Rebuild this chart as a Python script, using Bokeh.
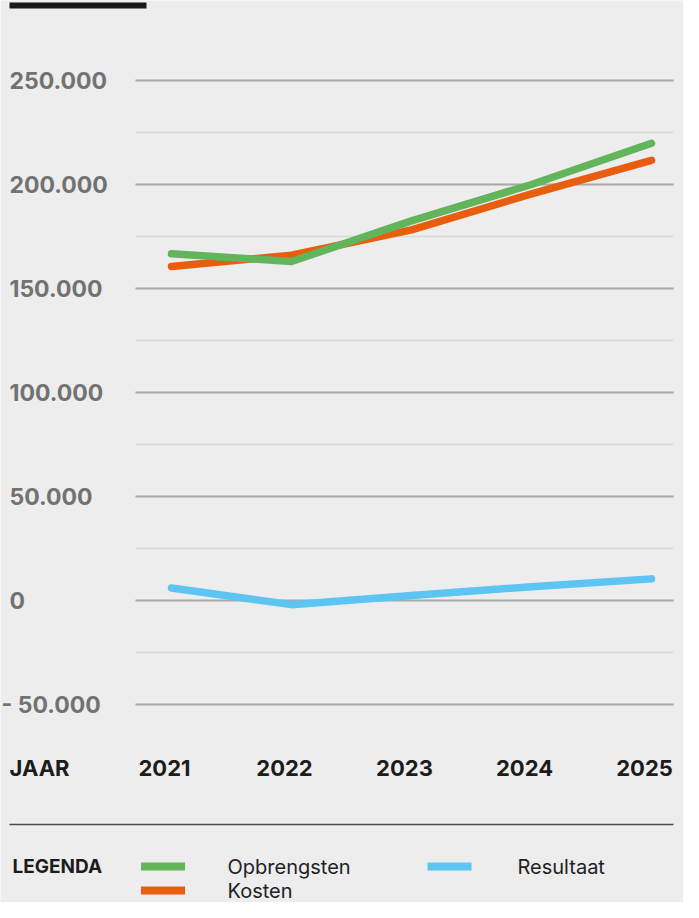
from bokeh.plotting import figure
from bokeh.models import Range1d
from bokeh.core.properties import value
from bokeh.embed import file_html
from bokeh.resources import INLINE

# ---------------- data ----------------
years = [2021, 2022, 2023, 2024, 2025]
opbrengsten = [166700, 163000, 182500, 200000, 219800]
kosten = [160600, 166000, 178200, 195500, 211600]
resultaat = [6000, -2000, 2400, 6600, 10400]

y_major = [250000, 200000, 150000, 100000, 50000, 0, -50000]
y_major_labels = ["250.000", "200.000", "150.000", "100.000", "50.000", "0", "- 50.000"]
y_minor = [225000, 175000, 125000, 75000, 25000, -25000]
year_labels = ["2021", "2022", "2023", "2024", "2025"]
x_title = "JAAR"
legend_title = "LEGENDA"
series_names = ["Opbrengsten", "Kosten", "Resultaat"]

# ---------------- styling ----------------
BG = "#ededed"
C_GREEN = "#62b55b"
C_ORANGE = "#e95d0e"
C_BLUE = "#5cc5f2"
FONT = value("Inter")

W, H = 683, 902          # figure size (page has 8px margin)
PX_PER_YEAR = 120.0
PX_PER_UNIT = 0.00208    # pixels per unit of value
X0_PAGE = 179.0          # page x of first year
ZERO_PAGE = 608.0        # page y of value 0


def X(px):
    """page pixel x -> data x"""
    return years[0] + (px - X0_PAGE) / PX_PER_YEAR


def Y(py):
    """page pixel y -> data y"""
    return (ZERO_PAGE - py) / PX_PER_UNIT


p = figure(width=W, height=H, output_backend="svg", toolbar_location=None,
           x_range=Range1d(X(8), X(8 + W)), y_range=Range1d(Y(8 + H), Y(8)),
           min_border=0, min_border_left=0, min_border_right=0,
           min_border_top=0, min_border_bottom=0)
p.axis.visible = False
p.grid.visible = False
p.outline_line_color = None
p.background_fill_color = BG
p.border_fill_color = BG

# top black bar
p.segment(x0=[X(17)], y0=[Y(13)], x1=[X(154)], y1=[Y(13)],
          line_color="#1a1a1a", line_width=6, line_cap="butt")

# grid lines
gx0, gx1 = X(143), X(681)
p.segment(x0=[gx0] * len(y_minor), y0=y_minor, x1=[gx1] * len(y_minor), y1=y_minor,
          line_color="#d9d9d9", line_width=1.6)
p.segment(x0=[gx0] * len(y_major), y0=y_major, x1=[gx1] * len(y_major), y1=y_major,
          line_color="#a8a8a8", line_width=2)

# y tick labels (left aligned)
lab_x = [X(17) if not s.startswith("-") else X(9) for s in y_major_labels]
p.text(x=lab_x, y=y_major, text=y_major_labels, text_font=FONT,
       text_font_style="bold", text_font_size="23px", text_color="#727272",
       text_align="left", text_baseline="middle")

# series lines
p.line(years, resultaat, line_color=C_BLUE, line_width=7.5, line_cap="round", line_join="round")
p.line(years, kosten, line_color=C_ORANGE, line_width=7.5, line_cap="round", line_join="round")
p.line(years, opbrengsten, line_color=C_GREEN, line_width=7.5, line_cap="round", line_join="round")

# x labels
p.text(x=years, y=[Y(775)] * len(years), text=year_labels, text_font=FONT,
       text_font_style="bold", text_font_size="22px", text_color="#1c1c1c",
       text_align="center", text_baseline="middle", x_offset=-7)
p.text(x=[X(17)], y=[Y(775)], text=[x_title], text_font=FONT,
       text_font_style="bold", text_font_size="22px", text_color="#1c1c1c",
       text_align="left", text_baseline="middle")

# divider
p.segment(x0=[X(17)], y0=[Y(832)], x1=[X(681)], y1=[Y(832)],
          line_color="#4a4a4a", line_width=1.3)

# legend
p.text(x=[X(20)], y=[Y(874)], text=[legend_title], text_font=FONT,
       text_font_style="bold", text_font_size="19px", text_color="#1c1c1c",
       text_align="left", text_baseline="middle")
sw_x = [X(148.5), X(148.5), X(435)]
sw_y = [Y(874), Y(898), Y(874)]
sw_len = 44 / PX_PER_YEAR
sw_col = [C_GREEN, C_ORANGE, C_BLUE]
p.segment(x0=sw_x, y0=sw_y, x1=[v + sw_len for v in sw_x], y1=sw_y,
          line_color=sw_col, line_width=8, line_cap="butt")
lt_x = [X(235), X(235), X(525)]
p.text(x=lt_x, y=sw_y, text=series_names, text_font=FONT,
       text_font_size="20px", text_color="#222222",
       text_align="left", text_baseline="middle")

open("out.html", "w").write(file_html(p, INLINE))
